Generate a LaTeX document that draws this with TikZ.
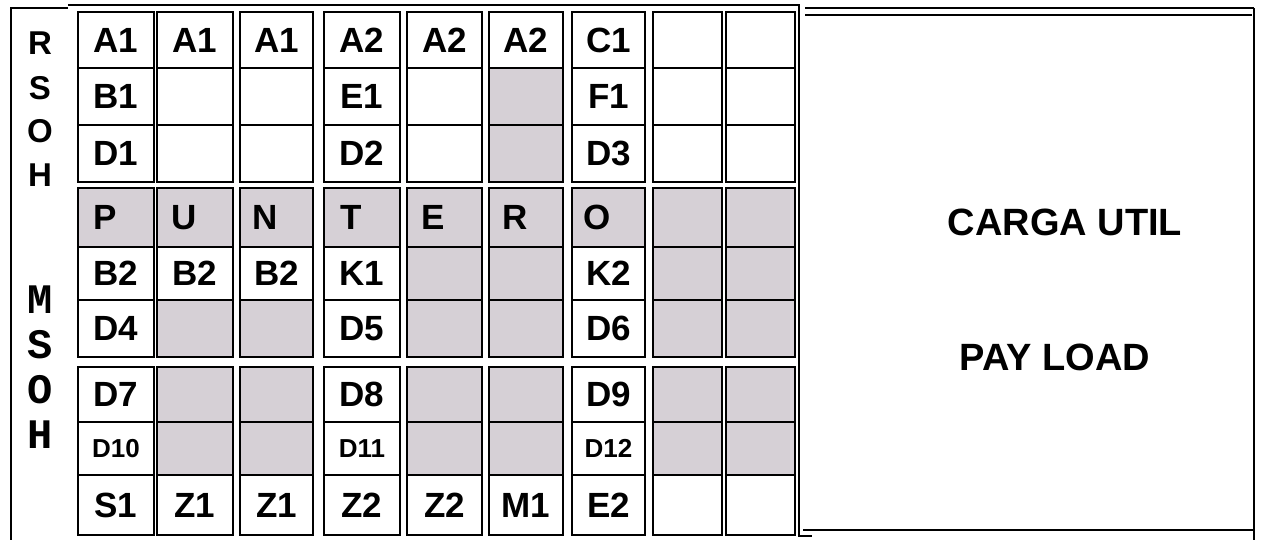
\documentclass[tikz,border=0pt]{standalone}
\usepackage{fontspec}
\setmainfont{Liberation Sans}
\newfontfamily\monofam{Liberation Mono}
\definecolor{shade}{RGB}{214,208,214}
\newcommand\smallf{\fontsize{13}{14}\selectfont}
\newcommand\gridrow[4]{%
  \foreach \c/\t/\f in {#4}{%
    \pgfmathsetmacro\myxc{{0,116,195,276.5,362,444.5,526,608.5,687.5,760.5}[\c]}%
    \pgfmathsetmacro\mycw{{0,38,38,36.5,38,37.5,37,36.5,34.5,34.5}[\c]}%
    \node[cell, fill=\f, minimum width=\mycw pt, minimum height=#3pt] (#1c\c) at (\myxc,#2) {\t};
  }}
\tikzset{
  cell/.style={draw=black, line width=1pt, inner sep=0pt, text=black,
    font=\bfseries\fontsize{17.5}{18}\selectfont},
  lab/.style={inner sep=0pt, text=black, font=\bfseries\fontsize{17.5}{18}\selectfont},
  rsoh/.style={inner sep=0pt, text=black, font=\bfseries\fontsize{16.5}{17}\selectfont},
  msoh/.style={inner sep=0pt, text=black, font=\monofam\bfseries\fontsize{21}{22}\selectfont},
  big/.style={inner sep=0pt, text=black, font=\bfseries\fontsize{19}{20}\selectfont},
  frame/.style={line width=1pt, draw=black},
}
\begin{document}
\begin{tikzpicture}[x=0.5pt, y=-0.5pt]
\useasboundingbox[fill=white] (0,0) rectangle (1264,540);
% grid
\gridrow{r1}{40}{28}{1/A1/white,2/A1/white,3/A1/white,4/A2/white,5/A2/white,6/A2/white,7/C1/white,8//white,9//white}
\gridrow{r2}{96.5}{28.5}{1/B1/white,2//white,3//white,4/E1/white,5//white,6//shade,7/F1/white,8//white,9//white}
\gridrow{r3}{153.5}{28.5}{1/D1/white,2//white,3//white,4/D2/white,5//white,6//shade,7/D3/white,8//white,9//white}
\gridrow{r4}{217.5}{29.5}{1//shade,2//shade,3//shade,4//shade,5//shade,6//shade,7//shade,8//shade,9//shade}
\gridrow{r5}{273.5}{26.5}{1/B2/white,2/B2/white,3/B2/white,4/K1/white,5//shade,6//shade,7/K2/white,8//shade,9//shade}
\gridrow{r6}{328.5}{28.5}{1/D4/white,2//shade,3//shade,4/D5/white,5//shade,6//shade,7/D6/white,8//shade,9//shade}
\gridrow{r7}{394.5}{27.5}{1/D7/white,2//shade,3//shade,4/D8/white,5//shade,6//shade,7/D9/white,8//shade,9//shade}
\gridrow{r8}{448.5}{26.5}{1/{\smallf D10}/white,2//shade,3//shade,4/{\smallf D11}/white,5//shade,6//shade,7/{\smallf D12}/white,8//shade,9//shade}
\gridrow{r9}{505}{30}{1/S1/white,2/Z1/white,3/Z1/white,4/Z2/white,5/Z2/white,6/M1/white,7/E2/white,8//white,9//white}
% PUNTERO letters
\foreach \c/\t in {1/P,2/U,3/N,4/T,5/E,6/R,7/O}
  \node[lab] (L\c) at ([xshift=-5.5pt]r4c\c.center) {\t};
% RSOH / MSOH
\node[rsoh] (rR) at (40,43) {R};
\node[rsoh] (rS) at (40,88) {S};
\node[rsoh] (rO) at (40,131) {O};
\node[rsoh] (rH) at (40,175) {H};
\node[msoh] (mM) at (40,300) {M};
\node[msoh] (mS) at (40,345) {S};
\node[msoh] (mO) at (40,390) {O};
\node[msoh] (mH) at (40,435) {H};
% frames
\draw[frame] (11,540) -- (11,8) -- (68,8);
\draw[frame] (68,5) -- (800,5);
\draw[frame] (799,5) -- (799,536) -- (812,536);
\draw[frame] (805,8) -- (1254,8);
\draw[frame] (805,15) -- (1252,15);
\draw[frame] (1254,8) -- (1254,540);
\draw[frame] (803,530) -- (1254,530);
% payload texts
\node[big] (cu) at (1065,222) {CARGA UTIL};
\node[big] (pl) at (1055,357) {PAY LOAD};
\end{tikzpicture}
\end{document}
